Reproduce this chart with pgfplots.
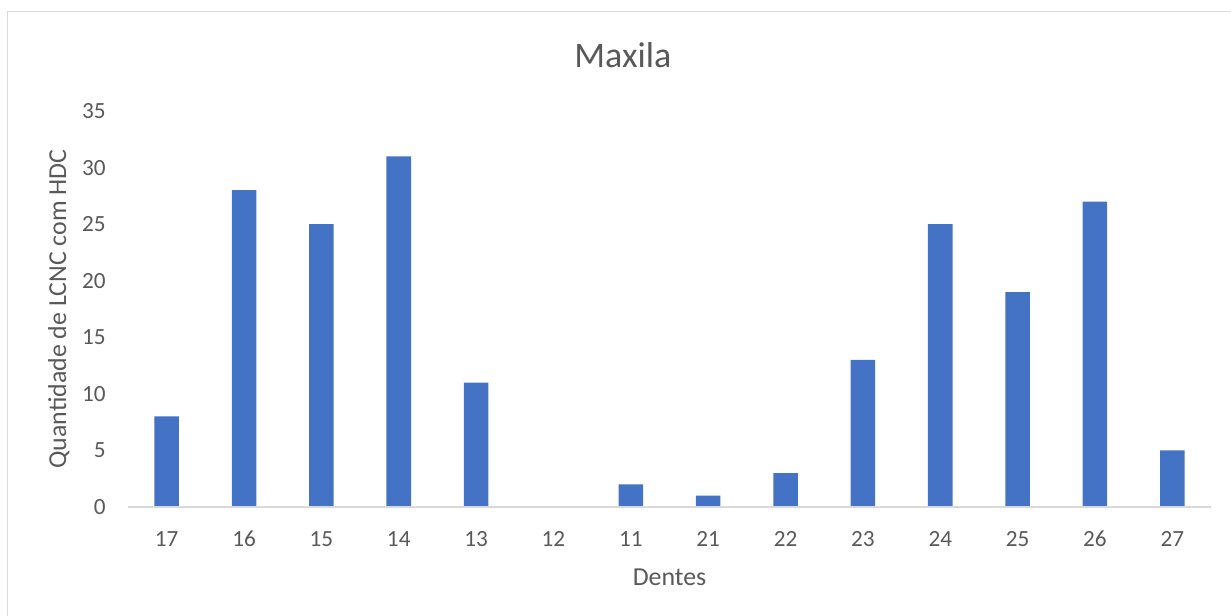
\documentclass[border=0pt]{standalone}
\usepackage{fontspec}
\setmainfont{Carlito}
\usepackage{pgfplots}
\pgfplotsset{compat=1.18}
\definecolor{barblue}{HTML}{4472C4}
\definecolor{txtgray}{HTML}{595959}
\definecolor{linegray}{HTML}{D9D9D9}

\begin{document}
\begin{tikzpicture}
\useasboundingbox (0,0) rectangle (923.25pt,-462pt);
% chart area frame
\draw[linegray, line width=1pt] (5.6pt,-470pt) -- (5.6pt,-8.8pt) -- (930pt,-8.8pt);
\begin{axis}[
  at={(96pt,-380.25pt)}, anchor=south west,
  scale only axis, width=812.25pt, height=297pt,
  xmin=-0.5, xmax=13.5, ymin=0, ymax=35,
  axis on top,
  ytick={0,5,...,35},
  xtick={0,...,13},
  xticklabels={17,16,15,14,13,12,11,21,22,23,24,25,26,27},
  axis x line*=bottom, axis y line*=left,
  x axis line style={linegray, line width=1pt},
  y axis line style={draw=none},
  tick style={draw=none},
  major tick length=0pt,
  /pgf/number format/assume math mode=true,
  ticklabel style={font=\fontsize{17.4}{20}\selectfont, text=txtgray, inner sep=0pt},
  yticklabel style={anchor=east, xshift=-16.5pt},
  xticklabel style={anchor=north, yshift=-18pt},
  title={Maxila},
  every axis title/.style={at={(rel axis cs:0.457,1.111)}, anchor=base,
    font=\fontsize{27}{30}\selectfont, text=txtgray, inner sep=0pt},
  xlabel={Dentes},
  every axis x label/.style={at={(rel axis cs:0.5,-0.197)}, anchor=base,
    font=\fontsize{19.4}{22}\selectfont, text=txtgray, inner sep=0pt},
  ylabel={Quantidade de LCNC com HDC},
  every axis y label/.style={at={(rel axis cs:-0.0572,0.5)}, anchor=base, rotate=90,
    font=\fontsize{19.4}{22}\selectfont, text=txtgray, inner sep=0pt},
]
\addplot[ybar, fill=barblue, draw=none, bar width=18.4pt, bar shift=0pt]
  coordinates {(0,8) (1,28) (2,25) (3,31) (4,11) (5,0) (6,2)
               (7,1) (8,3) (9,13) (10,25) (11,19) (12,27) (13,5)};
\end{axis}
\end{tikzpicture}
\end{document}
